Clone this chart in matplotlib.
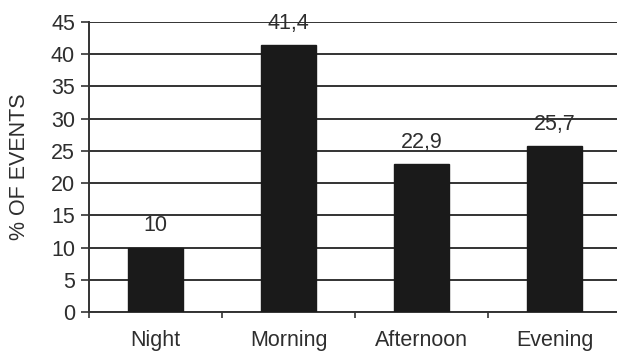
import matplotlib
matplotlib.use("Agg")
import matplotlib.pyplot as plt

categories = ["Night", "Morning", "Afternoon", "Evening"]
values = [10, 41.4, 22.9, 25.7]
value_labels = ["10", "41,4", "22,9", "25,7"]
yticks = [0, 5, 10, 15, 20, 25, 30, 35, 40, 45]

plt.rcParams['font.family'] = ['Liberation Sans', 'DejaVu Sans']
FS = 15.5
TC = '#2e2e2e'

fig = plt.figure(figsize=(6.17, 3.56), dpi=100)
ax = fig.add_axes([89/617, 1-312/356, 532/617, 290/356])

x = list(range(len(categories)))
ax.bar(x, values, width=0.41, color='#1a1a1a', edgecolor='#1a1a1a', zorder=3)

for xi, v, lab in zip(x, values, value_labels):
    ax.annotate(lab, (xi, v), xytext=(0, 12), textcoords='offset points',
                ha='center', va='baseline', fontsize=FS, color=TC, zorder=1)

ax.set_xlim(-0.5, 3.5)
ax.set_ylim(0, 45)
ax.set_yticks(yticks)
ax.set_yticklabels([str(t) for t in yticks], fontsize=FS, color=TC)
ax.yaxis.grid(True, color='#333333', linewidth=1.4, zorder=0)
ax.set_axisbelow(True)

ax.set_xticks([-0.5, 0.5, 1.5, 2.5, 3.5])
ax.set_xticklabels([])
ax.set_xticks(x, minor=True)
ax.set_xticklabels(categories, minor=True, fontsize=FS, color=TC)
ax.tick_params(axis='x', which='minor', length=0, pad=13)
ax.tick_params(axis='x', which='major', length=4, width=1.2, color='#333333', direction='out')
ax.tick_params(axis='y', length=6, width=1.2, color='#333333', direction='out', pad=4)

for s in ['top', 'right']:
    ax.spines[s].set_visible(False)
ax.spines['left'].set_color('#333333')
ax.spines['left'].set_linewidth(1.4)
ax.spines['bottom'].set_color('#333333')
ax.spines['bottom'].set_linewidth(1.4)

ax.set_ylabel("% OF EVENTS", fontsize=FS, color=TC, labelpad=15)

fig.savefig("out.png", dpi=100)
